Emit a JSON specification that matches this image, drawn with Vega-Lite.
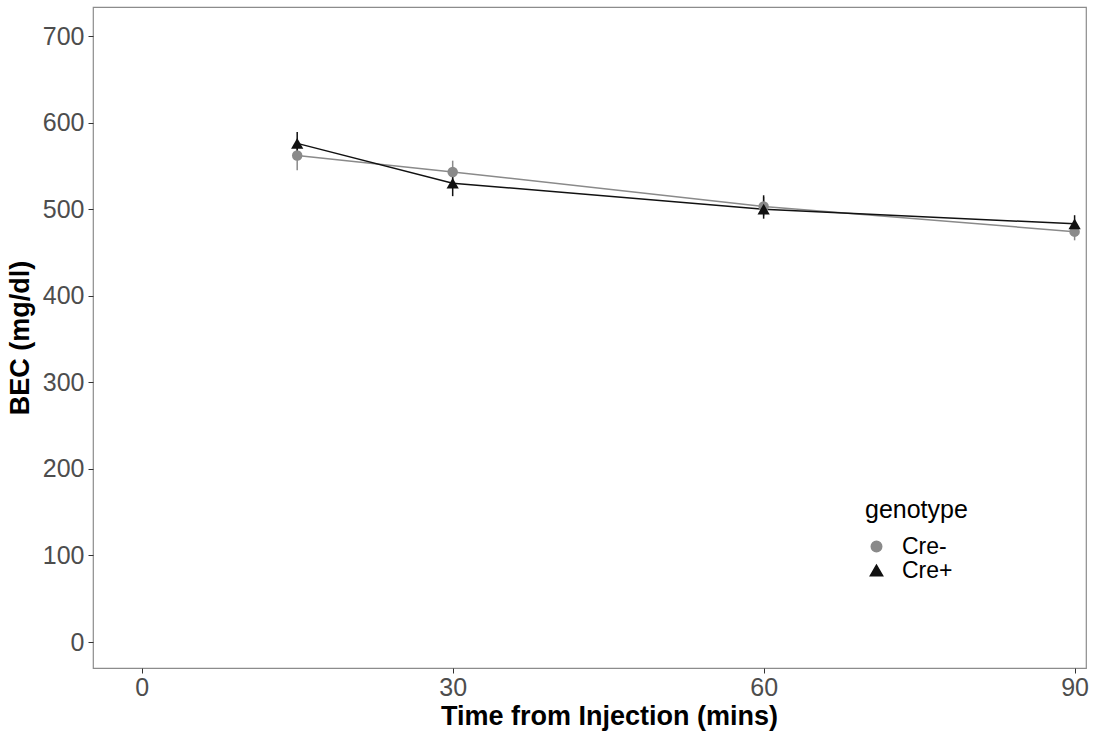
{
  "$schema": "https://vega.github.io/schema/vega-lite/v6.json",
  "width": 993,
  "height": 661,
  "autosize": {"type": "none"},
  "padding": {"left": 93, "top": 7, "right": 28, "bottom": 65},
  "background": "white",
  "config": {
    "font": "Liberation Sans",
    "view": {"stroke": "#8c8c8c", "strokeWidth": 1.2},
    "axis": {
      "grid": false,
      "domain": false,
      "labelFontSize": 25,
      "labelColor": "#4d4d4d",
      "labelFont": "Liberation Sans",
      "tickColor": "#333333",
      "tickSize": 5,
      "titleFontSize": 27,
      "titleFontWeight": "bold",
      "titleColor": "#000000",
      "titleFont": "Liberation Sans"
    },
    "legend": {"labelFont": "Liberation Sans", "titleFont": "Liberation Sans"}
  },
  "data": {
    "values": [
      {"genotype": "Cre-", "time": 15, "mean": 562, "lo": 545, "hi": 578},
      {"genotype": "Cre-", "time": 30, "mean": 543, "lo": 530, "hi": 556},
      {"genotype": "Cre-", "time": 60, "mean": 503, "lo": 492, "hi": 514},
      {"genotype": "Cre-", "time": 90, "mean": 474, "lo": 464, "hi": 484},
      {"genotype": "Cre+", "time": 15, "mean": 576, "lo": 563, "hi": 589},
      {"genotype": "Cre+", "time": 30, "mean": 530, "lo": 515, "hi": 545},
      {"genotype": "Cre+", "time": 60, "mean": 500, "lo": 489, "hi": 516},
      {"genotype": "Cre+", "time": 90, "mean": 483, "lo": 473, "hi": 493}
    ]
  },
  "encoding": {
    "x": {
      "field": "time", "type": "quantitative",
      "scale": {"domain": [-4.7, 91.1], "nice": false, "zero": false},
      "axis": {"values": [0, 30, 60, 90], "title": "Time from Injection (mins)", "labelPadding": 2, "titlePadding": 3, "titleX": 516, "titleAlign": "center", "titleAnchor": null}
    },
    "color": {
      "field": "genotype", "type": "nominal",
      "scale": {"domain": ["Cre-", "Cre+"], "range": ["#8a8a8a", "#111111"]},
      "legend": {
        "orient": "none", "legendX": 772, "legendY": 491, "padding": 0,
        "title": "genotype", "titleFontSize": 25, "titleFontWeight": "normal",
        "titleColor": "#000000", "labelFontSize": 23, "labelColor": "#000000",
        "symbolSize": 120, "rowPadding": 0, "titlePadding": 12, "symbolOffset": 0, "labelOffset": 14
      }
    }
  },
  "layer": [
    {
      "mark": {"type": "rule", "strokeWidth": 1.5},
      "encoding": {
        "y": {"field": "lo", "type": "quantitative"},
        "y2": {"field": "hi"}
      }
    },
    {
      "mark": {"type": "line", "strokeWidth": 1.5},
      "encoding": {
        "y": {"field": "mean", "type": "quantitative"}
      }
    },
    {
      "mark": {"type": "point", "filled": true, "opacity": 1},
      "encoding": {
        "y": {
          "field": "mean", "type": "quantitative",
          "scale": {"domain": [-30, 733.5], "nice": false, "zero": false},
          "axis": {"values": [0, 100, 200, 300, 400, 500, 600, 700], "title": "BEC (mg/dl)", "labelPadding": 4, "titlePadding": 8}
        },
        "shape": {
          "field": "genotype", "type": "nominal",
          "scale": {"domain": ["Cre-", "Cre+"], "range": ["circle", "triangle-up"]}
        },
        "size": {
          "field": "genotype", "type": "nominal",
          "scale": {"domain": ["Cre-", "Cre+"], "range": [110, 150]},
          "legend": null
        }
      }
    }
  ]
}
